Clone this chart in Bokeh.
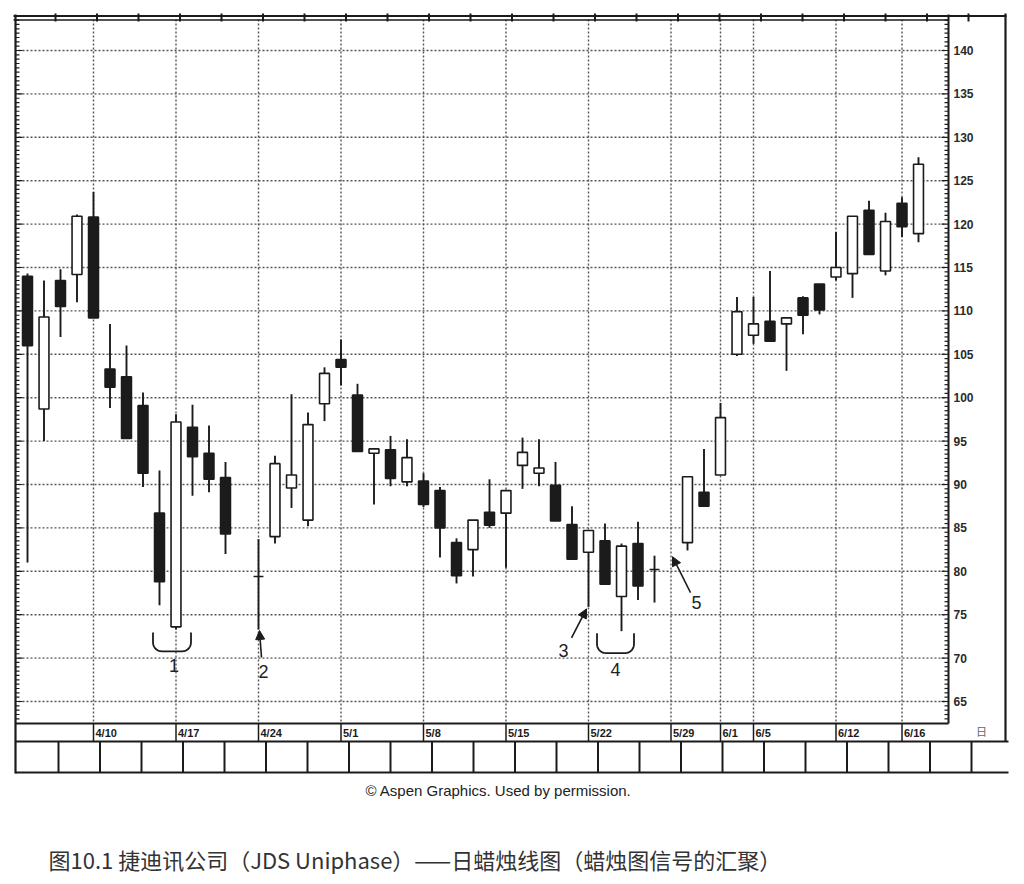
import numpy as np
from bokeh.plotting import figure
from bokeh.models import Range1d, ColumnDataSource, Arrow, NormalHead
from bokeh.embed import file_html
from bokeh.resources import INLINE
from bokeh.core.properties import value

# ---------------- data ----------------
dates = ["2000-04-04", "2000-04-05", "2000-04-06", "2000-04-07",
         "2000-04-10", "2000-04-11", "2000-04-12", "2000-04-13", "2000-04-14",
         "2000-04-17", "2000-04-18", "2000-04-19", "2000-04-20",
         "2000-04-24", "2000-04-25", "2000-04-26", "2000-04-27", "2000-04-28",
         "2000-05-01", "2000-05-02", "2000-05-03", "2000-05-04", "2000-05-05",
         "2000-05-08", "2000-05-09", "2000-05-10", "2000-05-11", "2000-05-12",
         "2000-05-15", "2000-05-16", "2000-05-17", "2000-05-18", "2000-05-19",
         "2000-05-22", "2000-05-23", "2000-05-24", "2000-05-25", "2000-05-26",
         "2000-05-30", "2000-05-31", "2000-06-01", "2000-06-02",
         "2000-06-05", "2000-06-06", "2000-06-07", "2000-06-08", "2000-06-09",
         "2000-06-12", "2000-06-13", "2000-06-14", "2000-06-15", "2000-06-16",
         "2000-06-19"]
opens = [114.0, 98.7, 113.5, 114.2,
         120.8, 103.3, 102.4, 99.1, 86.7,
         73.6, 96.6, 93.6, 90.8,
         79.4, 84.0, 89.6, 85.9, 99.3,
         104.4, 100.3, 93.6, 94.0, 90.3,
         90.4, 89.3, 83.3, 82.5, 86.8,
         86.7, 92.2, 91.3, 89.9, 85.4,
         82.2, 83.5, 77.1, 83.2, 80.2,
         83.3, 89.1, 91.1, 105.0,
         107.2, 108.8, 108.5, 111.5, 113.1,
         113.9, 114.3, 121.6, 114.6, 122.4,
         118.9]
highs = [114.3, 113.5, 114.8, 121.1,
         123.7, 108.5, 106.0, 100.6, 91.6,
         98.1, 99.2, 96.8, 92.6,
         83.7, 93.3, 100.4, 98.3, 103.5,
         106.7, 101.6, 94.2, 95.6, 95.2,
         91.3, 89.7, 83.8, 85.9, 90.6,
         89.4, 95.4, 95.2, 92.6, 87.5,
         84.7, 85.5, 83.2, 85.7, 81.8,
         90.9, 94.1, 99.4, 111.6,
         111.6, 114.6, 109.2, 111.7, 113.1,
         119.1, 120.9, 122.7, 121.3, 123.1,
         127.7]
lows = [81.0, 95.0, 107.0, 111.0,
        109.2, 98.8, 95.3, 89.7, 76.1,
        73.3, 88.7, 89.1, 82.0,
        73.3, 83.2, 87.3, 85.2, 97.3,
        101.4, 93.8, 87.7, 89.8, 89.8,
        87.4, 81.6, 78.6, 79.4, 85.0,
        80.4, 89.5, 89.8, 85.8, 81.4,
        75.9, 78.5, 73.1, 76.7, 76.4,
        82.4, 87.5, 91.1, 104.8,
        106.2, 106.5, 103.1, 107.3, 109.6,
        113.5, 111.5, 116.5, 114.1, 118.5,
        117.9]
closes = [106.0, 109.3, 110.5, 120.9,
          109.2, 101.2, 95.3, 91.3, 78.8,
          97.2, 93.2, 90.6, 84.3,
          79.4, 92.4, 91.1, 96.9, 102.8,
          103.5, 93.8, 94.1, 90.7, 93.1,
          87.7, 85.0, 79.5, 85.9, 85.3,
          89.3, 93.7, 91.9, 85.8, 81.4,
          84.7, 78.5, 82.9, 78.3, 80.2,
          90.9, 87.5, 97.7, 109.9,
          108.5, 106.5, 109.2, 109.5, 110.1,
          115.0, 120.9, 116.5, 120.3, 119.7,
          126.9]

week_dates = ["2000-04-10", "2000-04-17", "2000-04-24", "2000-05-01", "2000-05-08",
              "2000-05-15", "2000-05-22", "2000-05-29", "2000-06-01", "2000-06-05",
              "2000-06-12", "2000-06-16"]
week_labels = ["4/10", "4/17", "4/24", "5/1", "5/8", "5/15", "5/22", "5/29",
               "6/1", "6/5", "6/12", "6/16"]
price_ticks = [65, 70, 75, 80, 85, 90, 95, 100, 105, 110, 115, 120, 125, 130, 135, 140]

signal_labels = ["1", "2", "3", "4", "5"]
signal_dates = ["2000-04-17", "2000-04-24", "2000-05-22", "2000-05-24", "2000-05-26"]
period_mark = "日"
credit = "© Aspen Graphics. Used by permission."
caption = "图10.1 捷迪讯公司（JDS Uniphase）——日蜡烛线图（蜡烛图信号的汇聚）"

# ---------------- layout (reference pixel space) ----------------
W, H = 1010, 878
OFF = 0
PX0, PXD = 93.0, 16.5        # pixel of 2000-04-10, pixels per business day
PY140, PYU = 50.0, 8.68      # pixel of price 140, pixels per price unit
INK = "#1b1b1b"
GRID = "#555555"


def px_x(px):
    return (px - PX0) / PXD


def px_y(py):
    return 140.0 - (py - PY140) / PYU


def to_px_x(x):
    return PX0 + x * PXD


def to_px_y(v):
    return PY140 + (140.0 - v) * PYU


base = np.datetime64("2000-04-10")
xs = np.busday_count(base, np.array(dates, dtype="datetime64[D]")).astype(float)
wx = np.busday_count(base, np.array(week_dates, dtype="datetime64[D]")).astype(float)
o = np.array(opens); c = np.array(closes); hi = np.array(highs); lo = np.array(lows)

p = figure(width=W, height=H, output_backend="svg", toolbar_location=None,
           x_range=Range1d(px_x(OFF), px_x(OFF + W)),
           y_range=Range1d(px_y(OFF + H), px_y(OFF)),
           min_border=0, x_axis_location=None, y_axis_location=None,
           background_fill_color="white", border_fill_color="white")
p.outline_line_color = None
p.grid.visible = False

L, R, T, B = 15.0, 948.0, 17.0, 723.0   # price panel edges (px)

# grid lines
p.segment(x0=px_x(L + 3), x1=px_x(R - 2), y0=price_ticks, y1=price_ticks,
          line_color=GRID, line_width=1.4, line_dash="2 2")
p.segment(x0=wx, x1=wx, y0=px_y(T + 2), y1=px_y(B),
          line_color=GRID, line_width=1.4, line_dash="2 2")

# rulers (left and right)
fine = np.arange(63.0, 143.6, 0.5)
fine = fine[(to_px_y(fine) > T + 2) & (to_px_y(fine) < B - 1)]
major = np.isclose(fine % 5, 0)
p.segment(x0=px_x(R - np.where(major, 7, 4)), x1=px_x(R), y0=fine, y1=fine,
          line_color=INK, line_width=1.2)
p.segment(x0=px_x(L), x1=px_x(L + np.where(major, 7, 4)), y0=fine, y1=fine,
          line_color=INK, line_width=1.2)


def hline(y, x0, x1, w=2.0):
    p.line([px_x(x0), px_x(x1)], [px_y(y), px_y(y)], line_color=INK, line_width=w)


def vline(x, y0, y1, w=2.0):
    p.line([px_x(x), px_x(x)], [px_y(y0), px_y(y1)], line_color=INK, line_width=w)


hline(15.5, 13, 1006, 2.2)
hline(19.5, 13, R, 1.4)
vline(R, 14, B, 2.0)
vline(L, 14, 773, 2.2)
vline(1005, 13, 741, 2.2)
hline(B, L, R, 2.0)
hline(741, L, 1008, 2.0)
hline(772, L, 1008, 2.2)
top_ticks = 13.5 + 41.5 * np.arange(1, 24)
p.segment(x0=px_x(top_ticks), x1=px_x(top_ticks), y0=px_y(13), y1=px_y(21),
          line_color=INK, line_width=2)
box_lines = 16.5 + 41.5 * np.arange(1, 24)
p.segment(x0=px_x(box_lines), x1=px_x(box_lines), y0=px_y(741), y1=px_y(772),
          line_color=INK, line_width=2)

# date row
p.segment(x0=wx, x1=wx, y0=px_y(B), y1=px_y(741), line_color=INK, line_width=1.5)
p.text(x=wx + px_x(95) - px_x(93), y=[px_y(732)] * len(wx), text=week_labels,
       text_font=value("Liberation Sans"), text_font_size="11px", text_font_style="bold",
       text_color=INK, text_align="left", text_baseline="middle")
p.text(x=[px_x(981)], y=[px_y(730)], text=[period_mark],
       text_font=value("Noto Sans CJK SC"), text_font_size="11px",
       text_color="#666666", text_align="center", text_baseline="middle")

# price labels
p.text(x=[px_x(R + 5)] * len(price_ticks), y=price_ticks, text=[str(t) for t in price_ticks],
       text_font=value("Liberation Sans"), text_font_size="12px", text_font_style="bold",
       text_color="#2a2a2a", text_align="left", text_baseline="middle")

# candles
up = c >= o
src = ColumnDataSource(dict(x=xs, hi=hi, lo=lo, top=np.maximum(o, c), bot=np.minimum(o, c),
                            fill=np.where(up, "white", INK)))
p.segment(x0="x", x1="x", y0="hi", y1="lo", source=src, line_color=INK, line_width=1.9)
p.vbar(x="x", width=0.6, top="top", bottom="bot", source=src,
       fill_color="fill", line_color=INK, line_width=1.6)

# signal annotations
idx = {d: i for i, d in enumerate(dates)}
FONT = value("Liberation Sans")


def bracket(cx_px, top_px, w=38.0, h=19.0, r=9.0):
    t = np.linspace(0, np.pi / 2, 8)
    left_arc_x = cx_px - w / 2 + r - r * np.cos(t)
    left_arc_y = top_px + h - r + r * np.sin(t)
    right_arc_x = cx_px + w / 2 - r + r * np.sin(t)
    right_arc_y = top_px + h - r + r * np.cos(t)
    bx = np.concatenate([[cx_px - w / 2], left_arc_x, right_arc_x, [cx_px + w / 2]])
    by = np.concatenate([[top_px], left_arc_y, right_arc_y, [top_px]])
    p.line(px_x(bx), px_y(by), line_color=INK, line_width=1.8)


def label(txt, px, py):
    p.text(x=[px_x(px)], y=[px_y(py)], text=[txt], text_font=FONT, text_font_size="18px",
           text_color="#222222", text_align="center", text_baseline="middle")


def arrow(x0, y0, x1, y1):
    p.add_layout(Arrow(end=NormalHead(size=9, fill_color=INK, line_color=INK, line_width=1),
                       x_start=px_x(x0), y_start=px_y(y0), x_end=px_x(x1), y_end=px_y(y1),
                       line_color=INK, line_width=1.6))


i = idx[signal_dates[0]]; cx = to_px_x(xs[i]); ly = to_px_y(lo[i])
bracket(cx - 4, ly + 3)
label(signal_labels[0], cx - 2, ly + 36)
i = idx[signal_dates[1]]; cx = to_px_x(xs[i]); ly = to_px_y(lo[i])
arrow(cx + 3, ly + 28, cx + 1, ly + 1)
label(signal_labels[1], cx + 5, ly + 42)
i = idx[signal_dates[2]]; cx = to_px_x(xs[i]); ly = to_px_y(lo[i])
arrow(cx - 17, ly + 31, cx - 2, ly + 2)
label(signal_labels[2], cx - 25, ly + 44)
i = idx[signal_dates[3]]; cx = to_px_x(xs[i]); ly = to_px_y(lo[i])
bracket(cx - 6, ly + 2, w=37, h=20)
label(signal_labels[3], cx - 6, ly + 38)
i = idx[signal_dates[4]]; cx = to_px_x(xs[i]); hy = to_px_y(hi[i])
arrow(cx + 36, hy + 37, cx + 18, hy + 1)
label(signal_labels[4], cx + 42, hy + 47)

# credit and caption
p.text(x=[px_x(498)], y=[px_y(790)], text=[credit], text_font=FONT, text_font_size="15px",
       text_color="#222222", text_align="center", text_baseline="middle")
p.text(x=[px_x(48)], y=[px_y(858)], text=[caption], text_font=value("Noto Sans CJK SC"),
       text_font_size="22px", text_color="#333333", text_align="left", text_baseline="middle")

open("out.html", "w").write(file_html(p, INLINE))
